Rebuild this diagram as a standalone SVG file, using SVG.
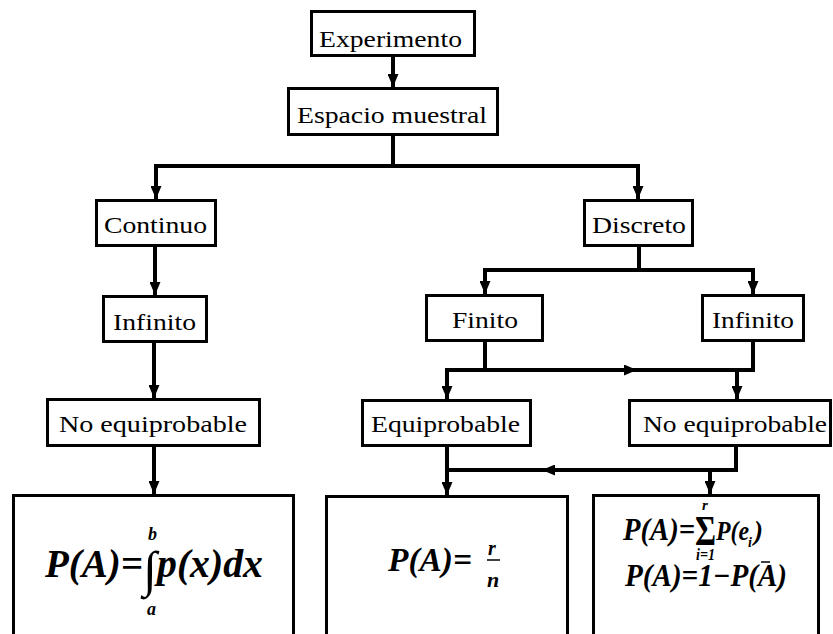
<svg xmlns="http://www.w3.org/2000/svg" width="833" height="634" viewBox="0 0 833 634">
<defs>
<marker id="ah" viewBox="0 0 13 11" refX="13" refY="5.5" markerWidth="13" markerHeight="11" orient="auto" markerUnits="userSpaceOnUse">
<path d="M0,0 L13,5.5 L0,11 z" fill="#000"/>
</marker>
</defs>
<style>
.box{fill:#fff;stroke:#000;stroke-width:3}
.lbl{font-size:24px;fill:#000}
.f{font-weight:bold;font-style:italic;fill:#000}
.fr{fill:#000}
.c{fill:none;stroke:#000;stroke-width:4}
.ca{fill:none;stroke:#000;stroke-width:4;marker-end:url(#ah)}
</style>
<rect width="833" height="634" fill="#fff"/>

<g id="connectors">
<path class="ca" d="M393,57 V87"/>
<path class="ca" d="M393,136 V166 H156 V199"/>
<path class="ca" d="M393,166 H638 V199"/>
<path class="ca" d="M155,247 V295"/>
<path class="ca" d="M154,343 V398"/>
<path class="ca" d="M154,447 V494"/>
<path class="ca" d="M639,247 V270 H485 V294"/>
<path class="ca" d="M639,270 H753 V294"/>
<path class="ca" d="M485,342 V370 H447 V399"/>
<path class="ca" d="M485,370 H637"/>
<path class="c" d="M630,370 H753 V342"/>
<path class="ca" d="M737,370 V399"/>
<path class="ca" d="M447,447 V495"/>
<path class="ca" d="M736,447 V470 H542"/>
<path class="c" d="M550,470 H445"/>
<path class="ca" d="M710,470 V494"/>
</g>

<g font-family="'Liberation Serif', 'Times New Roman', serif">
<g id="experimento">
<rect class="box" x="311.5" y="11.5" width="163" height="44"/>
<text class="lbl" x="319" y="47" textLength="143" lengthAdjust="spacingAndGlyphs">Experimento</text>
</g>
<g id="espacio">
<rect class="box" x="288.5" y="88.5" width="209" height="46"/>
<text class="lbl" x="297" y="123" textLength="190" lengthAdjust="spacingAndGlyphs">Espacio muestral</text>
</g>
<g id="continuo">
<rect class="box" x="96.5" y="200.5" width="119" height="45"/>
<text class="lbl" x="104" y="233" textLength="103" lengthAdjust="spacingAndGlyphs">Continuo</text>
</g>
<g id="infinito-c">
<rect class="box" x="103.5" y="296.5" width="103" height="45"/>
<text class="lbl" x="113" y="330" textLength="83" lengthAdjust="spacingAndGlyphs">Infinito</text>
</g>
<g id="noequi-c">
<rect class="box" x="47.5" y="399.5" width="212" height="46"/>
<text class="lbl" x="59" y="432" textLength="188" lengthAdjust="spacingAndGlyphs">No equiprobable</text>
</g>
<g id="discreto">
<rect class="box" x="584.5" y="200.5" width="108" height="45"/>
<text class="lbl" x="592" y="233" textLength="94" lengthAdjust="spacingAndGlyphs">Discreto</text>
</g>
<g id="finito">
<rect class="box" x="426.5" y="295.5" width="116" height="45"/>
<text class="lbl" x="452" y="328" textLength="66" lengthAdjust="spacingAndGlyphs">Finito</text>
</g>
<g id="infinito-d">
<rect class="box" x="702.5" y="295.5" width="101" height="45"/>
<text class="lbl" x="712" y="328" textLength="82" lengthAdjust="spacingAndGlyphs">Infinito</text>
</g>
<g id="equiprobable">
<rect class="box" x="362.5" y="400.5" width="168" height="45"/>
<text class="lbl" x="371" y="432" textLength="149" lengthAdjust="spacingAndGlyphs">Equiprobable</text>
</g>
<g id="noequi-d">
<rect class="box" x="629.5" y="400.5" width="201" height="45"/>
<text class="lbl" x="643" y="432" textLength="184" lengthAdjust="spacingAndGlyphs">No equiprobable</text>
</g>

<g id="formula-continuo">
<rect class="box" x="13.5" y="495.5" width="280" height="150"/>
<text class="f" x="45" y="577" font-size="40" textLength="98" lengthAdjust="spacingAndGlyphs">P(A)=</text>
<text class="fr" x="143" y="586" font-size="50">∫</text>
<text class="f" x="148" y="540" font-size="18">b</text>
<text class="f" x="147" y="615" font-size="18">a</text>
<text class="f" x="157" y="577" font-size="40" textLength="106" lengthAdjust="spacingAndGlyphs">p(x)dx</text>
</g>
<g id="formula-equi">
<rect class="box" x="326.5" y="496.5" width="241" height="150"/>
<text class="f" x="388" y="571" font-size="34" textLength="84" lengthAdjust="spacingAndGlyphs">P(A)=</text>
<text class="f" x="488" y="555" font-size="20">r</text>
<line x1="487" y1="560" x2="500" y2="560" stroke="#000" stroke-width="1.5"/>
<text class="f" x="487" y="587" font-size="22">n</text>
</g>
<g id="formula-noequi">
<rect class="box" x="593.5" y="495.5" width="225" height="150"/>
<text class="f" x="623" y="540" font-size="31" textLength="72" lengthAdjust="spacingAndGlyphs">P(A)=</text>
<text class="fr" x="695" y="545" font-size="42" font-weight="bold" textLength="21" lengthAdjust="spacingAndGlyphs">Σ</text>
<text class="f" x="702" y="510" font-size="15">r</text>
<text class="f" x="696" y="560" font-size="16" textLength="19" lengthAdjust="spacingAndGlyphs">i=1</text>
<text class="f" x="716" y="540" font-size="27" textLength="33" lengthAdjust="spacingAndGlyphs">P(e</text>
<text class="f" x="748" y="547" font-size="14">i</text>
<text class="f" x="754" y="540" font-size="27">)</text>
<text class="f" x="625" y="586" font-size="31" textLength="162" lengthAdjust="spacingAndGlyphs">P(A)=1−P(A)</text>
<line x1="761" y1="562" x2="770" y2="562" stroke="#000" stroke-width="1.5"/>
</g>
</g>
</svg>
